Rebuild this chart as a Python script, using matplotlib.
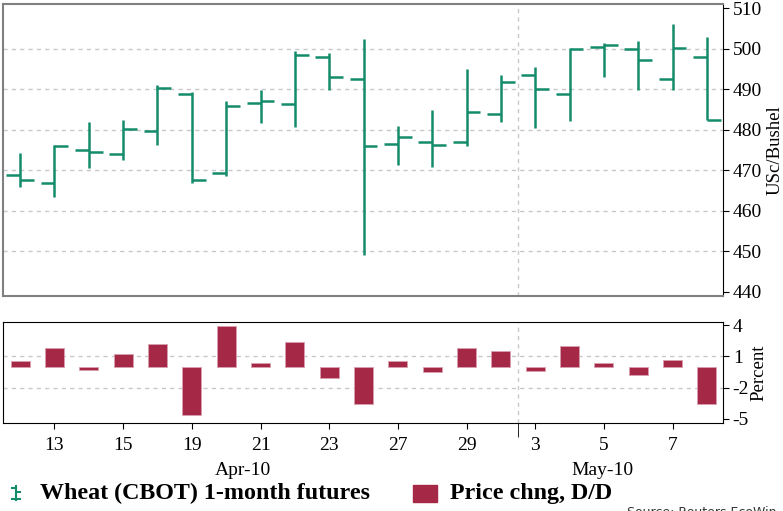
import matplotlib.pyplot as plt
from matplotlib.lines import Line2D
from matplotlib.patches import Rectangle
import matplotlib.transforms as mtransforms

plt.rcParams["font.family"] = "Liberation Serif"
plt.rcParams["font.size"] = 14

# Data
dates = ["12", "13", "14", "15", "16", "19", "20", "21", "22", "23",
         "26", "27", "28", "29", "30", "3", "4", "5", "6", "7", "10"]
opens = [468.9, 466.9, 475.1, 474.1, 479.6, 488.9, 469.4, 486.6, 486.4, 497.9,
         492.4, 476.6, 476.9, 476.9, 483.9, 493.4, 488.9, 500.4, 499.9, 492.4, 497.9]
highs = [474.3, 476.3, 481.9, 482.3, 491.1, 489.2, 487.1, 489.9, 499.3, 499.0,
         502.3, 481.0, 484.9, 495.0, 493.5, 495.5, 500.2, 501.4, 501.8, 506.1, 502.8]
lows = [465.9, 463.4, 470.5, 472.5, 476.2, 466.8, 468.6, 481.7, 480.7, 489.8,
        449.0, 471.3, 470.7, 476.0, 482.0, 480.5, 482.2, 493.0, 489.9, 489.9, 482.3]
closes = [467.6, 476.0, 474.6, 480.1, 490.4, 467.6, 485.9, 487.2, 498.4, 493.1,
          475.9, 478.2, 476.2, 484.4, 491.7, 490.0, 499.8, 501.0, 497.2, 500.1, 482.5]
pct_chng = [0.52, 1.81, -0.35, 1.23, 2.2, -4.66, 3.94, 0.33, 2.36, -1.12,
            -3.54, 0.55, -0.48, 1.78, 1.55, -0.44, 2.04, 0.33, -0.8, 0.68, -3.57]
tick_idx = [1, 3, 5, 7, 9, 11, 13, 15, 17, 19]
months = ["Apr-10", "May-10"]

green = "#148c6c"
red = "#a52947"
x = list(range(len(dates)))

fig = plt.figure(figsize=(7.83, 5.11), dpi=100)
ax = fig.add_axes([0.0038, 0.4207, 0.9196, 0.5715])
ax2 = fig.add_axes([0.0038, 0.1716, 0.9196, 0.1989])

# OHLC bars
ax.vlines(x, lows, highs, color=green, lw=1.8)
ax.hlines(opens, [i - 0.4 for i in x], x, color=green, lw=1.8)
ax.hlines(closes, x, [i + 0.4 for i in x], color=green, lw=1.8)

ax.set_xlim(-0.5, 20.47)
ax.set_ylim(439, 511)
ax.set_yticks([440, 450, 460, 470, 480, 490, 500, 510])
ax.yaxis.tick_right()
ax.yaxis.set_label_position("right")
ax.set_ylabel("USc/Bushel", fontsize=13.5, labelpad=3)
ax.set_xticks([])
for y in [450, 460, 470, 480, 490, 500]:
    ax.axhline(y, color="#c8c8c8", lw=1, ls=(0, (3, 3)), zorder=0)
ax.axvline(14.5, color="#c8c8c8", lw=1, ls=(0, (3, 3)), zorder=0)
for s in ["left", "top", "bottom"]:
    ax.spines[s].set_color("#808080")
    ax.spines[s].set_linewidth(1.5)
ax.spines["right"].set_color("black")
ax.tick_params(axis="y", direction="out", length=4, pad=3)

# Daily change bars
ax2.bar(x, pct_chng, width=0.55, color=red, edgecolor="#d9a0ae", lw=0.6)
ax2.set_xlim(-0.5, 20.47)
ax2.set_ylim(-5.44, 4.35)
ax2.set_yticks([4, 1, -2, -5])
ax2.set_yticklabels(["4", "1", "-2", "-5"])
ax2.yaxis.tick_right()
ax2.yaxis.set_label_position("right")
ax2.set_ylabel("Percent", fontsize=13.5, labelpad=1)
for y in [1, -2]:
    ax2.axhline(y, color="#c8c8c8", lw=1, ls=(0, (3, 3)), zorder=0)
ax2.axvline(14.5, color="#c8c8c8", lw=1, ls=(0, (3, 3)), zorder=0)
ax2.set_xticks(tick_idx)
ax2.set_xticklabels([dates[i] for i in tick_idx])
ax2.set_xticks([14.5], minor=True)
ax2.tick_params(axis="x", which="major", direction="out", length=4, pad=6)
ax2.tick_params(axis="x", which="minor", direction="out", length=10)
ax2.tick_params(axis="y", direction="out", length=4, pad=3)

trans = mtransforms.blended_transform_factory(ax2.transData, fig.transFigure)
ax2.text(6.48, 1 - 470.7 / 511, months[0], transform=trans, ha="center", va="center")
ax2.text(16.96, 1 - 470.7 / 511, months[1], transform=trans, ha="center", va="center")

# Legend
lx = 16 / 783
fig.add_artist(Line2D([lx, lx], [1 - 486 / 511, 1 - 500 / 511], color=green, lw=1.5))
fig.add_artist(Line2D([lx - 4 / 783, lx], [1 - 488 / 511] * 2, color=green, lw=1.5))
fig.add_artist(Line2D([lx, lx + 4 / 783], [1 - 492 / 511] * 2, color=green, lw=1.5))
fig.add_artist(Line2D([lx - 4 / 783, lx + 4 / 783], [1 - 499 / 511] * 2, color=green, lw=1.5))
fig.text(40 / 783, 1 - 493 / 511, "Wheat (CBOT) 1-month futures", fontsize=17.3,
         fontweight="bold", va="center")
fig.add_artist(Rectangle((413 / 783, 1 - 502 / 511), 24 / 783, 17 / 511, color=red))
fig.text(450 / 783, 1 - 493 / 511, "Price chng, D/D", fontsize=17.3,
         fontweight="bold", va="center")
fig.text(627 / 783, 1 - 506 / 511, "Source: Reuters EcoWin", fontsize=9,
         family="DejaVu Sans", color="#333333", va="top")

fig.savefig("out.png", dpi=100)
